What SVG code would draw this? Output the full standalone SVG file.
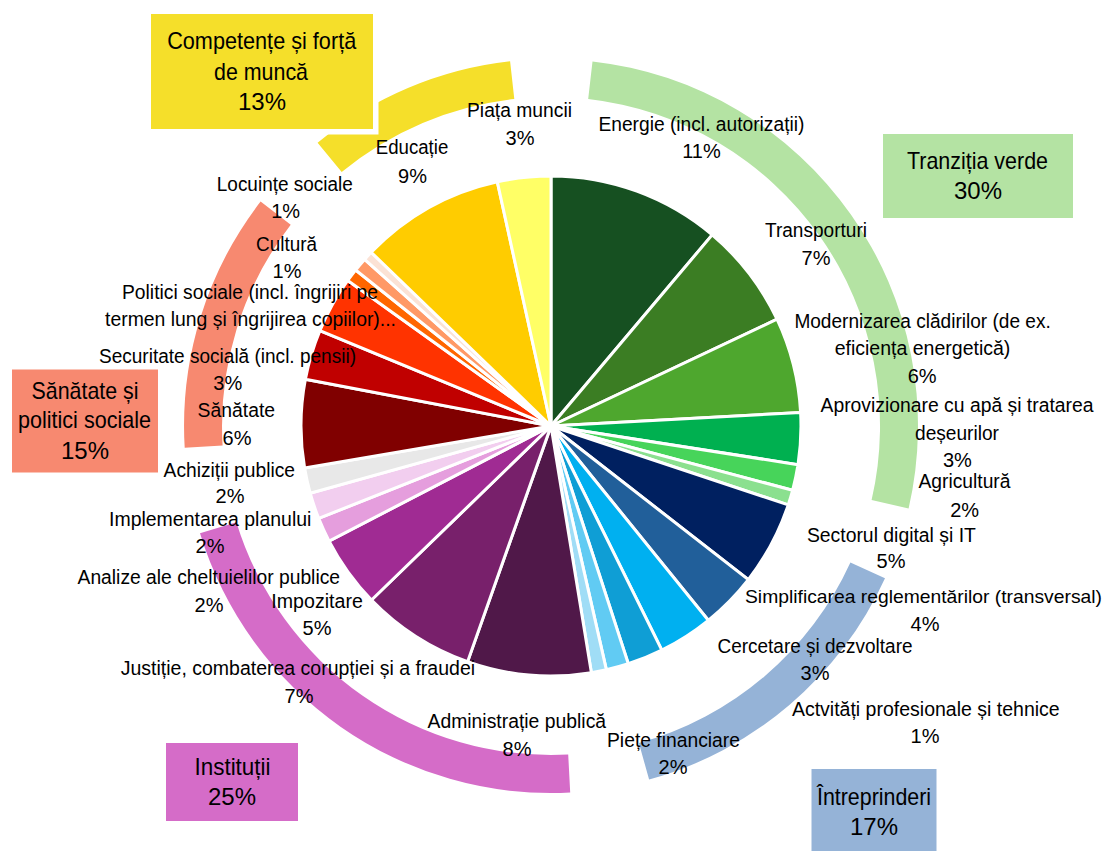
<svg xmlns="http://www.w3.org/2000/svg" width="1109" height="851" viewBox="0 0 1109 851">
<style>
.lbl{font-family:"Liberation Sans",Arial,sans-serif;font-size:20px;fill:#000;text-anchor:middle}
.box{font-family:"Liberation Sans",Arial,sans-serif;font-size:24px;fill:#000;text-anchor:middle}
.sl{stroke:#fff;stroke-width:3;stroke-linejoin:miter}
</style>
<rect width="1109" height="851" fill="#fff"/>
<g id="rings">
<path id="ring-green" fill="#B4E3A3" d="M592.5 61.4 A367 367 0 0 1 908.6 508.6 L871.6 500 A329 329 0 0 0 588.2 99.1 Z"/>
<path id="ring-blue" fill="#95B3D7" d="M885 578.2 A367 367 0 0 1 649.1 779.6 L638.9 743 A329 329 0 0 0 850.4 562.4 Z"/>
<path id="ring-pink" fill="#D56CC8" d="M570.2 792.5 A367 367 0 0 1 200 533.3 L236.4 522.2 A329 329 0 0 0 568.2 754.5 Z"/>
<path id="ring-salmon" fill="#F78970" d="M184.7 447.8 A367 367 0 0 1 260.6 201.6 L290.7 224.8 A329 329 0 0 0 222.6 445.5 Z"/>
<path id="ring-yellow" fill="#F5DF2A" d="M317.6 142.8 A367 367 0 0 1 510.1 61.3 L514.3 99 A329 329 0 0 0 341.7 172.1 Z"/>
</g>
<g id="pie">
<path id="s-energie" class="sl" fill="#165021" d="M551 426 L551 176 A250 250 0 0 1 712.2 234.9 Z"/>
<path id="s-transport" class="sl" fill="#3B7D23" d="M551 426 L712.2 234.9 A250 250 0 0 1 777 319.2 Z"/>
<path id="s-cladiri" class="sl" fill="#4EA72E" d="M551 426 L777 319.2 A250 250 0 0 1 800.6 412.5 Z"/>
<path id="s-apa" class="sl" fill="#00B050" d="M551 426 L800.6 412.5 A250 250 0 0 1 798 464.7 Z"/>
<path id="s-agri" class="sl" fill="#47D45A" d="M551 426 L798 464.7 A250 250 0 0 1 792.6 490.3 Z"/>
<path id="s-green-other" class="sl" fill="#8BE08F" d="M551 426 L792.6 490.3 A250 250 0 0 1 788.2 504.9 Z"/>
<path id="s-digital" class="sl" fill="#002060" d="M551 426 L788.2 504.9 A250 250 0 0 1 748.3 579.6 Z"/>
<path id="s-simpl" class="sl" fill="#215F9A" d="M551 426 L748.3 579.6 A250 250 0 0 1 708.3 620.3 Z"/>
<path id="s-cercetare" class="sl" fill="#00B0F0" d="M551 426 L708.3 620.3 A250 250 0 0 1 661.8 650.1 Z"/>
<path id="s-blue4" class="sl" fill="#0F9ED5" d="M551 426 L661.8 650.1 A250 250 0 0 1 628.3 663.8 Z"/>
<path id="s-blue5" class="sl" fill="#61CBF3" d="M551 426 L628.3 663.8 A250 250 0 0 1 606.4 669.8 Z"/>
<path id="s-blue6" class="sl" fill="#A0DDF6" d="M551 426 L606.4 669.8 A250 250 0 0 1 591.4 672.7 Z"/>
<path id="s-admin" class="sl" fill="#501849" d="M551 426 L591.4 672.7 A250 250 0 0 1 467.6 661.7 Z"/>
<path id="s-justitie" class="sl" fill="#78206B" d="M551 426 L467.6 661.7 A250 250 0 0 1 371.5 600 Z"/>
<path id="s-impozitare" class="sl" fill="#A02B93" d="M551 426 L371.5 600 A250 250 0 0 1 329.1 541.1 Z"/>
<path id="s-analize" class="sl" fill="#E59EDD" d="M551 426 L329.1 541.1 A250 250 0 0 1 318.7 518.4 Z"/>
<path id="s-implement" class="sl" fill="#F2CEEF" d="M551 426 L318.7 518.4 A250 250 0 0 1 310.2 493.2 Z"/>
<path id="s-achizitii" class="sl" fill="#E8E8E8" d="M551 426 L310.2 493.2 A250 250 0 0 1 304.6 468.1 Z"/>
<path id="s-sanatate" class="sl" fill="#800000" d="M551 426 L304.6 468.1 A250 250 0 0 1 305.4 379.2 Z"/>
<path id="s-securitate" class="sl" fill="#C00000" d="M551 426 L305.4 379.2 A250 250 0 0 1 319.9 330.7 Z"/>
<path id="s-politici" class="sl" fill="#FF3300" d="M551 426 L319.9 330.7 A250 250 0 0 1 347.7 280.5 Z"/>
<path id="s-cultura" class="sl" fill="#FF6600" d="M551 426 L347.7 280.5 A250 250 0 0 1 355.6 270 Z"/>
<path id="s-locuinte" class="sl" fill="#FF9966" d="M551 426 L355.6 270 A250 250 0 0 1 364.6 259.4 Z"/>
<path id="s-peach" class="sl" fill="#FBE2D5" d="M551 426 L364.6 259.4 A250 250 0 0 1 371.2 252.3 Z"/>
<path id="s-educatie" class="sl" fill="#FFCC00" d="M551 426 L371.2 252.3 A250 250 0 0 1 497.3 181.8 Z"/>
<path id="s-piata" class="sl" fill="#FFFF66" d="M551 426 L497.3 181.8 A250 250 0 0 1 551 176 Z"/>
</g>
<g id="box-competente">
<rect x="151" y="14" width="222" height="115" fill="#F5DF2A" stroke="#fff" stroke-width="11" paint-order="stroke"/>
<text class="box" x="261.7" y="49.3" textLength="189" lengthAdjust="spacingAndGlyphs">Competențe și forță</text>
<text class="box" x="261" y="80" textLength="94" lengthAdjust="spacingAndGlyphs">de muncă</text>
<text class="box" x="262" y="110">13%</text>
</g>
<g id="box-tranzitia">
<rect x="883" y="134" width="190" height="84" fill="#B4E3A3"/>
<text class="box" x="977.5" y="169.3" textLength="141" lengthAdjust="spacingAndGlyphs">Tranziția verde</text>
<text class="box" x="978" y="199.3">30%</text>
</g>
<g id="box-sanatate">
<rect x="12" y="369.5" width="146" height="103" fill="#F78970"/>
<text class="box" x="85" y="399.3" textLength="107" lengthAdjust="spacingAndGlyphs">Sănătate și</text>
<text class="box" x="84.5" y="428" textLength="133" lengthAdjust="spacingAndGlyphs">politici sociale</text>
<text class="box" x="85" y="459.3">15%</text>
</g>
<g id="box-institutii">
<rect x="166" y="743" width="132" height="78" fill="#D56CC8"/>
<text class="box" x="232.5" y="775" textLength="76" lengthAdjust="spacingAndGlyphs">Instituții</text>
<text class="box" x="232" y="805">25%</text>
</g>
<g id="box-intreprinderi">
<rect x="811.5" y="769" width="125" height="82" fill="#95B3D7"/>
<text class="box" x="874" y="805" textLength="114" lengthAdjust="spacingAndGlyphs">Întreprinderi</text>
<text class="box" x="874" y="835">17%</text>
</g>
<g id="labels">
<g id="l-piata"><text class="lbl" x="519.5" y="116.7" textLength="105" lengthAdjust="spacingAndGlyphs">Piața muncii</text><text class="lbl" x="520" y="145">3%</text></g>
<g id="l-energie"><text class="lbl" x="701.4" y="130.7" textLength="206" lengthAdjust="spacingAndGlyphs">Energie (incl. autorizații)</text><text class="lbl" x="701.5" y="158.3">11%</text></g>
<g id="l-educatie"><text class="lbl" x="412" y="154" textLength="72.5" lengthAdjust="spacingAndGlyphs">Educație</text><text class="lbl" x="412.5" y="182.7">9%</text></g>
<g id="l-locuinte"><text class="lbl" x="284.8" y="190.7" textLength="136" lengthAdjust="spacingAndGlyphs">Locuințe sociale</text><text class="lbl" x="285.7" y="218">1%</text></g>
<g id="l-cultura"><text class="lbl" x="286.5" y="250.7" textLength="61" lengthAdjust="spacingAndGlyphs">Cultură</text><text class="lbl" x="287" y="278">1%</text></g>
<g id="l-politici"><text class="lbl" x="250" y="299.3" textLength="256" lengthAdjust="spacingAndGlyphs">Politici sociale (incl. îngrijiri pe</text><text class="lbl" x="250.5" y="326" textLength="291" lengthAdjust="spacingAndGlyphs">termen lung și îngrijirea copiilor)...</text></g>
<g id="l-securitate"><text class="lbl" x="227.5" y="363.3" textLength="257" lengthAdjust="spacingAndGlyphs">Securitate socială (incl. pensii)</text><text class="lbl" x="227.8" y="390">3%</text></g>
<g id="l-sanatate"><text class="lbl" x="236.3" y="417.3" textLength="77.5" lengthAdjust="spacingAndGlyphs">Sănătate</text><text class="lbl" x="237" y="445">6%</text></g>
<g id="l-achizitii"><text class="lbl" x="229.3" y="476.7" textLength="131.4" lengthAdjust="spacingAndGlyphs">Achiziții publice</text><text class="lbl" x="230" y="503.3">2%</text></g>
<g id="l-implementarea"><text class="lbl" x="210.2" y="526" textLength="202.4" lengthAdjust="spacingAndGlyphs">Implementarea planului</text><text class="lbl" x="210" y="553.3">2%</text></g>
<g id="l-analize"><text class="lbl" x="208.8" y="584" textLength="262.5" lengthAdjust="spacingAndGlyphs">Analize ale cheltuielilor publice</text><text class="lbl" x="209" y="611.7">2%</text></g>
<g id="l-impozitare"><text class="lbl" x="317.1" y="608.3" textLength="91.5" lengthAdjust="spacingAndGlyphs">Impozitare</text><text class="lbl" x="317" y="635">5%</text></g>
<g id="l-justitie"><text class="lbl" x="297.9" y="675" textLength="354.3" lengthAdjust="spacingAndGlyphs">Justiție, combaterea corupției și a fraudei</text><text class="lbl" x="299" y="702.7">7%</text></g>
<g id="l-admin"><text class="lbl" x="516.8" y="728.3" textLength="178.6" lengthAdjust="spacingAndGlyphs">Administrație publică</text><text class="lbl" x="517" y="756">8%</text></g>
<g id="l-piete"><text class="lbl" x="673.5" y="746.7" textLength="133" lengthAdjust="spacingAndGlyphs">Piețe financiare</text><text class="lbl" x="673" y="774">2%</text></g>
<g id="l-activitati"><text class="lbl" x="925.8" y="716" textLength="267.8" lengthAdjust="spacingAndGlyphs">Actvități profesionale și tehnice</text><text class="lbl" x="925" y="743.3">1%</text></g>
<g id="l-cercetare"><text class="lbl" x="815" y="652.7" textLength="195" lengthAdjust="spacingAndGlyphs">Cercetare și dezvoltare</text><text class="lbl" x="815" y="680">3%</text></g>
<g id="l-simplificarea"><text class="lbl" x="923.5" y="603.3" font-size="19" textLength="357" lengthAdjust="spacingAndGlyphs" style="font-size:19px">Simplificarea reglementărilor (transversal)</text><text class="lbl" x="925" y="631">4%</text></g>
<g id="l-digital"><text class="lbl" x="891.4" y="541.7" textLength="169" lengthAdjust="spacingAndGlyphs">Sectorul digital și IT</text><text class="lbl" x="891" y="568.3">5%</text></g>
<g id="l-agricultura"><text class="lbl" x="964.5" y="488.3" textLength="92" lengthAdjust="spacingAndGlyphs">Agricultură</text><text class="lbl" x="964.7" y="516.7">2%</text></g>
<g id="l-apa"><text class="lbl" x="957" y="411.7" textLength="273" lengthAdjust="spacingAndGlyphs">Aprovizionare cu apă și tratarea</text><text class="lbl" x="957" y="440" textLength="84" lengthAdjust="spacingAndGlyphs">deșeurilor</text><text class="lbl" x="957.4" y="466.7">3%</text></g>
<g id="l-cladiri"><text class="lbl" x="922.6" y="328.3" textLength="256.4" lengthAdjust="spacingAndGlyphs">Modernizarea clădirilor (de ex.</text><text class="lbl" x="922.5" y="355" textLength="175.7" lengthAdjust="spacingAndGlyphs">eficiența energetică)</text><text class="lbl" x="922.2" y="383.3">6%</text></g>
<g id="l-transport"><text class="lbl" x="816" y="237.3" textLength="102" lengthAdjust="spacingAndGlyphs">Transporturi</text><text class="lbl" x="816" y="265">7%</text></g>
</g>
</svg>
